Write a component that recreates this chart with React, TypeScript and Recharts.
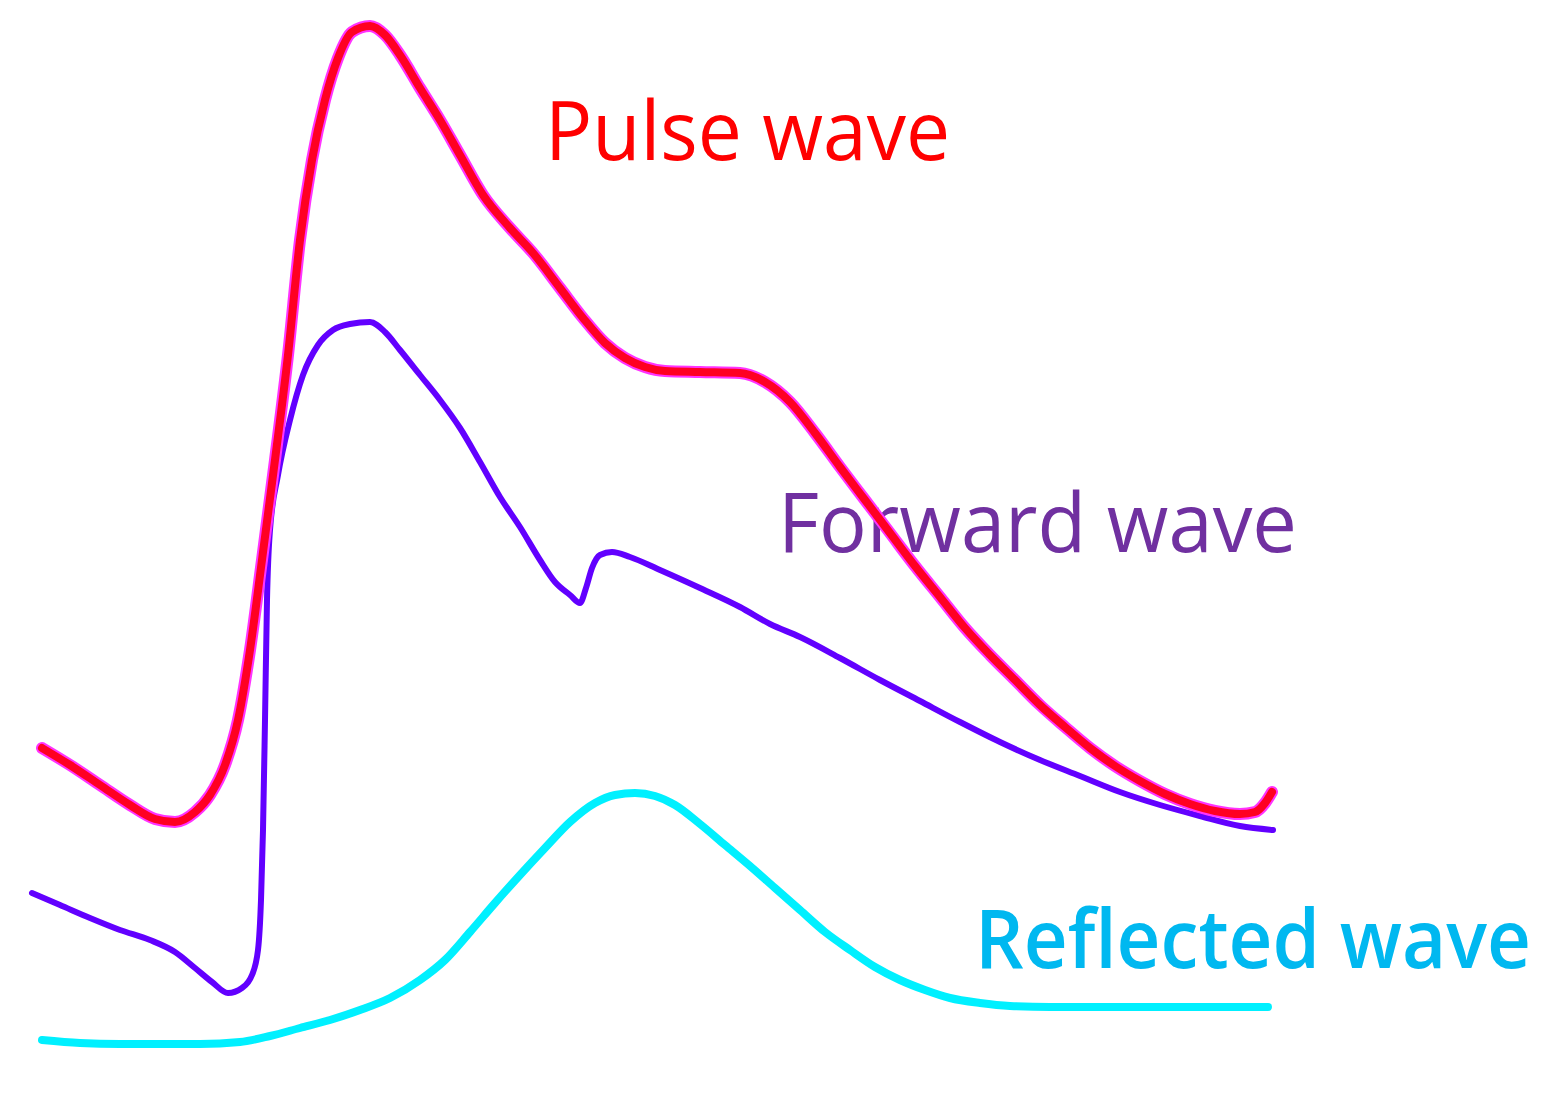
import { LineChart, Line, XAxis, YAxis } from 'recharts';

// Time axis (arbitrary units) and wave amplitude (measured downward, axis reversed)
const pulseT = [42, 70, 100, 130, 155, 175, 195, 210, 225, 238, 250, 262, 275, 288, 300, 312, 325, 338, 352, 370, 385, 400, 420, 440, 460, 483, 510, 533, 560, 583, 605, 625, 645, 665, 700, 740, 765, 790, 815, 840, 865, 890, 915, 940, 965, 990, 1015, 1040, 1065, 1090, 1115, 1140, 1165, 1190, 1215, 1240, 1255, 1265, 1272];
const pulseV = [748, 765, 785, 805, 819, 822, 812, 795, 765, 720, 650, 560, 460, 355, 240, 160, 100, 58, 32, 26, 35, 55, 88, 120, 155, 195, 228, 253, 288, 318, 343, 358, 367, 371, 372, 373, 382, 402, 433, 467, 500, 533, 566, 597, 628, 655, 680, 705, 727, 748, 766, 781, 794, 804, 811, 814, 812, 803, 792];

const forwardT = [32, 60, 90, 120, 150, 175, 195, 212, 228, 242, 252, 258, 261, 263, 265, 267, 270, 278, 290, 303, 318, 333, 350, 370, 385, 400, 420, 440, 460, 480, 500, 520, 540, 555, 570, 580, 586, 592, 600, 612, 630, 660, 700, 740, 770, 800, 840, 880, 920, 960, 1000, 1040, 1080, 1120, 1160, 1200, 1240, 1273];
const forwardV = [893, 905, 918, 930, 940, 952, 968, 982, 993, 988, 975, 950, 900, 830, 720, 600, 530, 475, 420, 375, 345, 330, 324, 322, 332, 350, 375, 400, 428, 462, 497, 527, 560, 582, 595, 603, 588, 568, 555, 552, 557, 570, 588, 607, 624, 637, 658, 680, 701, 722, 742, 760, 776, 792, 805, 816, 826, 830];

const reflectedT = [42, 80, 120, 160, 200, 240, 270, 300, 330, 360, 390, 420, 445, 470, 495, 520, 545, 570, 595, 615, 635, 655, 675, 700, 725, 750, 775, 800, 825, 850, 875, 900, 925, 950, 980, 1010, 1050, 1100, 1150, 1200, 1268];
const reflectedV = [1040, 1043, 1044, 1044, 1044, 1042, 1036, 1028, 1020, 1010, 998, 980, 960, 932, 903, 875, 848, 822, 803, 795, 793, 796, 805, 824, 845, 866, 888, 910, 932, 950, 967, 980, 990, 998, 1003, 1006, 1007, 1007, 1007, 1007, 1007];

const zip = (ts: number[], vs: number[]) => ts.map((t, i) => ({ t, v: vs[i] }));

const pulseData = zip(pulseT, pulseV);
const forwardData = zip(forwardT, forwardV);
const reflectedData = zip(reflectedT, reflectedV);

const W = 1564;
const H = 1099;

export default function App() {
  return (
    <div style={{ position: 'relative', width: W, height: H, background: '#fff' }}>
      <style>{`body{margin:0}`}</style>
      {/* labels sit underneath the curves */}
      <svg width={W} height={H} style={{ position: 'absolute', left: 0, top: 0 }}>
        <g fontFamily="'Open Sans', 'Noto Sans', sans-serif" fontSize={82}>
          <text x={545} y={160} fill="#ff0000" textLength={405} lengthAdjust="spacingAndGlyphs">Pulse wave</text>
          <text x={778} y={552} fill="#7030a0" textLength={519} lengthAdjust="spacingAndGlyphs">Forward wave</text>
          <text x={975} y={968} fill="#00b8f0" fontWeight={600} textLength={556} lengthAdjust="spacingAndGlyphs">Reflected wave</text>
        </g>
      </svg>
      <div style={{ position: 'absolute', left: 0, top: 0 }}>
        <LineChart width={W} height={H} margin={{ top: 0, right: 0, left: 0, bottom: 0 }}>
          <XAxis type="number" dataKey="t" domain={[0, W]} hide allowDataOverflow />
          <YAxis type="number" domain={[0, H]} reversed hide allowDataOverflow />
          {/* reflected wave */}
          <Line data={reflectedData} dataKey="v" type="monotone" stroke="#00f0ff" strokeWidth={8} dot={false} activeDot={false} isAnimationActive={false} strokeLinecap="round" />
          {/* forward wave */}
          <Line data={forwardData} dataKey="v" type="monotone" stroke="#6200ff" strokeWidth={6} dot={false} activeDot={false} isAnimationActive={false} strokeLinecap="round" />
          {/* pulse wave: magenta halo + red core */}
          <Line data={pulseData} dataKey="v" type="monotone" stroke="#ff33ff" strokeWidth={12} dot={false} activeDot={false} isAnimationActive={false} strokeLinecap="round" />
          <Line data={pulseData} dataKey="v" type="monotone" stroke="#ff0022" strokeWidth={8} dot={false} activeDot={false} isAnimationActive={false} strokeLinecap="round" />
        </LineChart>
      </div>
    </div>
  );
}
